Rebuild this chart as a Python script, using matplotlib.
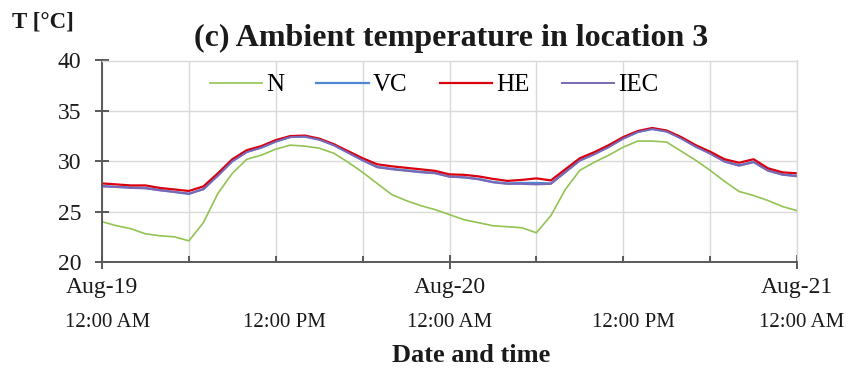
import matplotlib.pyplot as plt
import matplotlib.transforms as mtransforms

# hours since Aug-19 12:00 AM
hours = list(range(0, 49))

n_temp = [24.0, 23.6, 23.3, 22.8, 22.6, 22.5, 22.1, 23.9, 26.8, 28.8,
          30.2, 30.6, 31.2, 31.6, 31.5, 31.3, 30.8, 29.9, 28.9, 27.8,
          26.7, 26.1, 25.6, 25.2, 24.7, 24.2, 23.9, 23.6, 23.5, 23.4,
          22.9, 24.6, 27.2, 29.1, 29.9, 30.6, 31.4, 32.0, 32.0, 31.9,
          31.0, 30.1, 29.1, 28.0, 27.0, 26.6, 26.1, 25.5, 25.1]
vc_temp = [27.55, 27.45, 27.4, 27.35, 27.15, 26.95, 26.75, 27.25, 28.6, 30.0,
           30.95, 31.35, 31.95, 32.4, 32.45, 32.15, 31.6, 30.85, 30.1, 29.45,
           29.25, 29.1, 28.95, 28.85, 28.5, 28.4, 28.25, 27.95, 27.8, 27.85,
           27.85, 27.8, 28.95, 30.1, 30.7, 31.45, 32.25, 32.9, 33.2, 32.95,
           32.3, 31.45, 30.8, 30.0, 29.6, 29.95, 29.1, 28.7, 28.55]
he_temp = [27.8, 27.7, 27.6, 27.6, 27.35, 27.2, 27.05, 27.5, 28.8, 30.2,
           31.1, 31.5, 32.1, 32.5, 32.55, 32.25, 31.7, 31.0, 30.3, 29.7,
           29.5, 29.35, 29.2, 29.05, 28.7, 28.65, 28.5, 28.25, 28.05, 28.15,
           28.3, 28.1, 29.2, 30.3, 30.9, 31.6, 32.4, 33.0, 33.3, 33.05,
           32.4, 31.6, 30.95, 30.2, 29.85, 30.2, 29.3, 28.9, 28.8]
iec_temp = [27.5, 27.45, 27.35, 27.3, 27.1, 26.95, 26.8, 27.2, 28.55, 30.0,
            30.9, 31.35, 31.95, 32.4, 32.45, 32.15, 31.6, 30.85, 30.1, 29.4,
            29.2, 29.05, 28.9, 28.8, 28.45, 28.4, 28.2, 27.9, 27.75, 27.75,
            27.7, 27.75, 28.9, 30.05, 30.7, 31.4, 32.25, 32.9, 33.2, 32.95,
            32.25, 31.45, 30.75, 29.95, 29.55, 29.9, 29.05, 28.65, 28.5]

series_names = ['N', 'VC', 'HE', 'IEC']
colors = ['#92c353', '#4f86d6', '#d9000f', '#7b68b5']
widths = [1.2, 1.6, 1.6, 1.4]

date_labels = ['Aug-19', 'Aug-20', 'Aug-21']
date_hours = [0, 24, 48]
time_labels = ['12:00 AM', '12:00 PM', '12:00 AM', '12:00 PM', '12:00 AM']
time_hours = [0.4, 12.6, 24, 36.7, 48.3]

plt.rcParams['font.family'] = ['Liberation Serif', 'DejaVu Serif']

fig = plt.figure(figsize=(8.51, 3.69), dpi=100)
ax = fig.add_axes([102 / 851, 1 - 262 / 369, 695 / 851, 201.5 / 369])

all_temps = [n_temp, vc_temp, he_temp, iec_temp]
for i in range(len(series_names)):
    ax.plot(hours, all_temps[i], color=colors[i], lw=widths[i], label=series_names[i])

ax.set_xlim(0, 48)
ax.set_ylim(20, 40)
ax.set_yticks([20, 25, 30, 35, 40])
ax.set_xticks(date_hours)
ax.set_xticks([6, 12, 18, 30, 36, 42], minor=True)
ax.set_xticklabels([])
ax.grid(True, which='both', color='#d9d9d9', lw=1.0)
ax.set_axisbelow(True)

for side in ['top', 'right']:
    ax.spines[side].set_color('#d9d9d9')
    ax.spines[side].set_linewidth(1.0)
for side in ['left', 'bottom']:
    ax.spines[side].set_color('#595959')
    ax.spines[side].set_linewidth(1.4)

ax.tick_params(axis='y', direction='inout', length=10, width=1.4, color='#595959',
               labelsize=17, pad=10, labelcolor='#1a1a1a')
ax.tick_params(axis='x', which='major', direction='inout', length=10, width=1.4, color='#595959')
ax.tick_params(axis='x', which='minor', direction='in', length=4, width=1.4, color='#595959')

trans = mtransforms.blended_transform_factory(ax.transData, ax.transAxes)
for h, lab in zip(date_hours, date_labels):
    ax.text(h, -0.129, lab, transform=trans, ha='center', va='center', fontsize=17, color='#1a1a1a')
for h, lab in zip(time_hours, time_labels):
    ax.text(h, -0.30, lab, transform=trans, ha='center', va='center', fontsize=15, color='#1a1a1a')

ax.legend(loc='center', bbox_to_anchor=(434 / 851, 1 - 85 / 369), bbox_transform=fig.transFigure,
          ncol=4, frameon=False, fontsize=18, handlelength=2.1, handletextpad=0.15,
          columnspacing=1.3, borderpad=0)

fig.text(451 / 851, 1 - 38 / 369, '(c) Ambient temperature in location 3',
         ha='center', va='center', fontsize=23, fontweight='bold', color='#1a1a1a')
fig.text(12 / 851, 1 - 22 / 369, 'T [°C]', ha='left', va='center',
         fontsize=16.5, fontweight='bold', color='#1a1a1a')
fig.text(471 / 851, 1 - 355 / 369, 'Date and time', ha='center', va='center',
         fontsize=19, fontweight='bold', color='#1a1a1a')

plt.savefig('out.png', dpi=100)
